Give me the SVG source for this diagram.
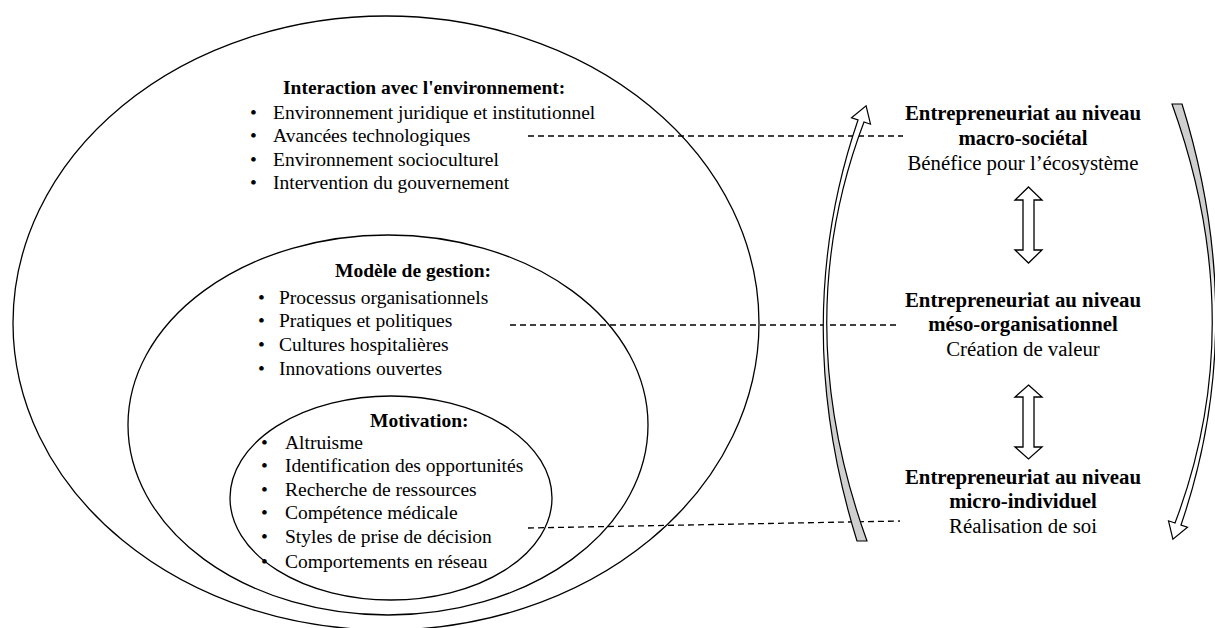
<svg xmlns="http://www.w3.org/2000/svg" width="1215" height="628" viewBox="0 0 1215 628">
<style>
.t{font-family:"Liberation Serif","Times New Roman",serif;font-size:19.5px;fill:#000}
.b{font-weight:bold}
.r{font-family:"Liberation Serif","Times New Roman",serif;font-size:20.8px;fill:#000;text-anchor:middle}
.ell{fill:none;stroke:#000;stroke-width:1.3}
.dash{fill:none;stroke:#000;stroke-width:1.3;stroke-dasharray:6 4}
.dbl{fill:#fff;stroke:#000;stroke-width:1.3;stroke-linejoin:miter}
.curve{fill:url(#g);stroke:#000;stroke-width:1.2;stroke-linejoin:miter}
</style>
<defs>
<linearGradient id="g" x1="0" y1="0" x2="0" y2="1">
<stop offset="0" stop-color="#fff"/>
<stop offset="0.55" stop-color="#fff"/>
<stop offset="0.65" stop-color="#cfcfcf"/>
<stop offset="1" stop-color="#cfcfcf"/>
</linearGradient>
<path id="carrow" d="M857 541 Q789 322 858 120 L851.5 117.8 L866.1 105.8 L870.5 124.2 L864 122 Q788 322 867 541 Z"/>
</defs>
<rect width="1215" height="628" fill="#fff"/>

<g id="outer">
<ellipse class="ell" cx="386" cy="323" rx="373" ry="307"/>
<text class="t b" x="283" y="94">Interaction avec l'environnement:</text>
<text class="t" x="250" y="119">•</text><text class="t" x="273" y="119">Environnement juridique et institutionnel</text>
<text class="t" x="250" y="142">•</text><text class="t" x="273" y="142">Avancées technologiques</text>
<text class="t" x="250" y="166">•</text><text class="t" x="273" y="166">Environnement socioculturel</text>
<text class="t" x="250" y="189">•</text><text class="t" x="273" y="189">Intervention du gouvernement</text>
</g>

<g id="middle">
<ellipse class="ell" cx="388" cy="425" rx="260" ry="190"/>
<text class="t b" x="335" y="277">Modèle de gestion:</text>
<text class="t" x="258" y="304">•</text><text class="t" x="279" y="304">Processus organisationnels</text>
<text class="t" x="258" y="327">•</text><text class="t" x="279" y="327">Pratiques et politiques</text>
<text class="t" x="258" y="351">•</text><text class="t" x="279" y="351">Cultures hospitalières</text>
<text class="t" x="258" y="375">•</text><text class="t" x="279" y="375">Innovations ouvertes</text>
</g>

<g id="inner">
<ellipse class="ell" cx="391" cy="498" rx="161" ry="102"/>
<text class="t b" x="370" y="427">Motivation:</text>
<text class="t" x="261" y="449">•</text><text class="t" x="285" y="449">Altruisme</text>
<text class="t" x="261" y="472">•</text><text class="t" x="285" y="472">Identification des opportunités</text>
<text class="t" x="261" y="496">•</text><text class="t" x="285" y="496">Recherche de ressources</text>
<text class="t" x="261" y="519">•</text><text class="t" x="285" y="519">Compétence médicale</text>
<text class="t" x="261" y="543">•</text><text class="t" x="285" y="543">Styles de prise de décision</text>
<text class="t" x="261" y="568">•</text><text class="t" x="285" y="568">Comportements en réseau</text>
</g>

<g id="macro">
<text class="r b" x="1023" y="120">Entrepreneuriat au niveau</text>
<text class="r b" x="1023" y="145">macro-sociétal</text>
<text class="r" x="1023" y="170">Bénéfice pour l’écosystème</text>
</g>

<g id="meso">
<text class="r b" x="1023" y="307">Entrepreneuriat au niveau</text>
<text class="r b" x="1023" y="331">méso-organisationnel</text>
<text class="r" x="1023" y="356">Création de valeur</text>
</g>

<g id="micro">
<text class="r b" x="1023" y="484">Entrepreneuriat au niveau</text>
<text class="r b" x="1023" y="508">micro-individuel</text>
<text class="r" x="1023" y="533">Réalisation de soi</text>
</g>

<g id="connectors">
<line class="dash" x1="528" y1="136" x2="903" y2="136"/>
<line class="dash" x1="510" y1="325" x2="898" y2="325"/>
<line class="dash" x1="528" y1="528" x2="900" y2="521"/>
<path class="dbl" d="M1028.5 187 L1042 200 L1034 200 L1034 250 L1042 250 L1028.5 263 L1015 250 L1023 250 L1023 200 L1015 200 Z"/>
<path class="dbl" d="M1028.5 385 L1042 397 L1034 397 L1034 447 L1042 447 L1028.5 459 L1015 447 L1023 447 L1023 397 L1015 397 Z"/>
<use href="#carrow" class="curve"/>
<use href="#carrow" class="curve" transform="rotate(180 1019.5 322.5)"/>
</g>
</svg>
